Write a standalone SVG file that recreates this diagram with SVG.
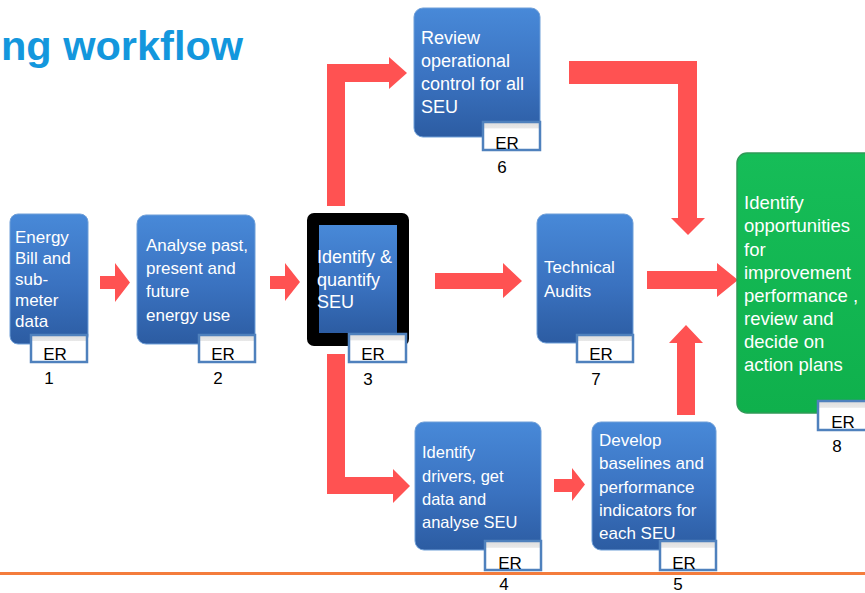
<svg xmlns="http://www.w3.org/2000/svg" width="865" height="593" viewBox="0 0 865 593">
  <defs>
    <linearGradient id="blueFill" x1="0" y1="0" x2="0" y2="1">
      <stop offset="0" stop-color="#4889d8"/>
      <stop offset="0.55" stop-color="#3a72c0"/>
      <stop offset="1" stop-color="#2c5ca2"/>
    </linearGradient>
    <linearGradient id="greenFill" x1="0" y1="0" x2="0" y2="1">
      <stop offset="0" stop-color="#16bd58"/>
      <stop offset="1" stop-color="#0fb04c"/>
    </linearGradient>
    <linearGradient id="erFill" x1="0" y1="0" x2="0" y2="1">
      <stop offset="0" stop-color="#dedede"/>
      <stop offset="0.22" stop-color="#e8e8e8"/>
      <stop offset="0.24" stop-color="#ffffff"/>
      <stop offset="1" stop-color="#ffffff"/>
    </linearGradient>
  </defs>
  <style>
    .box { fill: url(#blueFill); stroke: #6f9fd8; stroke-width: 1; }
    .green { fill: url(#greenFill); stroke: #2f9a57; stroke-width: 1.5; }
    .er { fill: url(#erFill); stroke: #4f81bd; stroke-width: 2.5; }
    .lbl { font-family: "Liberation Sans", Arial, sans-serif; fill: #ffffff; font-size: 17px; }
    .tag { font-family: "Liberation Sans", Arial, sans-serif; fill: #000000; font-size: 17px; text-anchor: middle; }
    .arrow { fill: #ff5252; }
    .title { font-family: "Liberation Sans", Arial, sans-serif; font-weight: bold; font-size: 41.5px; fill: #1397dd; }
  </style>

  <rect width="865" height="593" fill="#ffffff"/>

  <text class="title" x="1" y="60">ng workflow</text>

  <!-- footer rule -->
  <line x1="0" y1="573.5" x2="865" y2="573.5" stroke="#f47c3c" stroke-width="3"/>

  <!-- connectors -->
  <g id="connectors">
    <polygon class="arrow" points="100,276 115,276 115,263 130,282.5 115,302 115,289 100,289"/>
    <polygon class="arrow" points="270,276 285,276 285,263 300,282 285,301 285,289 270,289"/>
    <polygon class="arrow" points="435,273 503,273 503,263 522,281 503,298 503,289 435,289"/>
    <polygon class="arrow" points="327,206 327,64 389,64 389,57 407,73 389,89 389,82 345,82 345,206"/>
    <polygon class="arrow" points="327,354 345,354 345,477 393,477 393,469 410,486 393,503 393,494 327,494"/>
    <polygon class="arrow" points="569,61 697,61 697,218 705,218 688,235 671,218 678,218 678,84 569,84"/>
    <polygon class="arrow" points="647,271 717,271 717,263 738,280 717,297 717,289 647,289"/>
    <polygon class="arrow" points="677,415 677,343 669,343 686,325 703,343 695,343 695,415"/>
    <polygon class="arrow" points="554,479 572,479 572,468 585,484.5 572,501 572,492 554,492"/>
  </g>

  <!-- 1 -->
  <g id="node1">
    <rect class="box" x="10" y="214" width="78" height="130" rx="8"/>
    <text class="lbl"><tspan x="15" y="243">Energy</tspan><tspan x="15" y="264">Bill and</tspan><tspan x="15" y="285">sub-</tspan><tspan x="15" y="306">meter</tspan><tspan x="15" y="327">data</tspan></text>
    <rect class="er" x="31" y="335" width="56" height="27"/>
    <text class="tag" x="55" y="360">ER</text>
    <text class="tag" x="49" y="384">1</text>
  </g>

  <!-- 2 -->
  <g id="node2">
    <rect class="box" x="137" y="215" width="118" height="129" rx="9"/>
    <text class="lbl"><tspan x="146" y="251">Analyse past,</tspan><tspan x="146" y="274">present and</tspan><tspan x="146" y="297">future</tspan><tspan x="146" y="321">energy use</tspan></text>
    <rect class="er" x="199" y="335" width="56" height="27"/>
    <text class="tag" x="223" y="360">ER</text>
    <text class="tag" x="218" y="384">2</text>
  </g>

  <!-- 3 (highlighted) -->
  <g id="node3">
    <rect x="307" y="213" width="102" height="133" rx="7" fill="#000000"/>
    <rect x="319" y="225" width="78" height="108" fill="url(#blueFill)"/>
    <text class="lbl" style="font-size:18px"><tspan x="317" y="263">Identify &amp;</tspan><tspan x="317" y="286">quantify</tspan><tspan x="317" y="308">SEU</tspan></text>
    <rect class="er" x="349" y="334" width="57" height="28"/>
    <text class="tag" x="373" y="360">ER</text>
    <text class="tag" x="368" y="385">3</text>
  </g>

  <!-- 6 -->
  <g id="node6">
    <rect class="box" x="414" y="8" width="126" height="129" rx="9"/>
    <text class="lbl" style="font-size:18px"><tspan x="421" y="44">Review</tspan><tspan x="421" y="67">operational</tspan><tspan x="421" y="90">control for all</tspan><tspan x="421" y="113">SEU</tspan></text>
    <rect class="er" x="483" y="122" width="57" height="28"/>
    <text class="tag" x="507" y="149">ER</text>
    <text class="tag" x="502" y="173">6</text>
  </g>

  <!-- 7 -->
  <g id="node7">
    <rect class="box" x="537" y="214" width="96" height="129" rx="9"/>
    <text class="lbl"><tspan x="544" y="273">Technical</tspan><tspan x="544" y="297">Audits</tspan></text>
    <rect class="er" x="577" y="335" width="56" height="27"/>
    <text class="tag" x="601" y="360">ER</text>
    <text class="tag" x="596" y="385">7</text>
  </g>

  <!-- 4 -->
  <g id="node4">
    <rect class="box" x="415" y="422" width="126" height="128" rx="9"/>
    <text class="lbl" style="font-size:16.5px"><tspan x="422" y="458">Identify</tspan><tspan x="422" y="482">drivers, get</tspan><tspan x="422" y="505">data and</tspan><tspan x="422" y="528">analyse SEU</tspan></text>
    <rect class="er" x="485" y="541" width="56" height="29"/>
    <text class="tag" x="510" y="569">ER</text>
    <text class="tag" x="504" y="590">4</text>
  </g>

  <!-- 5 -->
  <g id="node5">
    <rect class="box" x="592" y="422" width="124" height="128" rx="9"/>
    <text class="lbl"><tspan x="599" y="446">Develop</tspan><tspan x="599" y="469">baselines and</tspan><tspan x="599" y="493">performance</tspan><tspan x="599" y="516">indicators for</tspan><tspan x="599" y="539">each SEU</tspan></text>
    <rect class="er" x="660" y="541" width="56" height="29"/>
    <text class="tag" x="684" y="569">ER</text>
    <text class="tag" x="678" y="590">5</text>
  </g>

  <!-- 8 -->
  <g id="node8">
    <rect class="green" x="737" y="153" width="145" height="260" rx="10"/>
    <text class="lbl" style="font-size:18.5px"><tspan x="744" y="209">Identify</tspan><tspan x="744" y="232">opportunities</tspan><tspan x="744" y="256">for</tspan><tspan x="744" y="279">improvement</tspan><tspan x="744" y="302">performance ,</tspan><tspan x="744" y="325">review and</tspan><tspan x="744" y="348">decide on</tspan><tspan x="744" y="371">action plans</tspan></text>
    <rect class="er" x="818" y="401" width="56" height="29"/>
    <text class="tag" x="843" y="428">ER</text>
    <text class="tag" x="837" y="452">8</text>
  </g>
</svg>
